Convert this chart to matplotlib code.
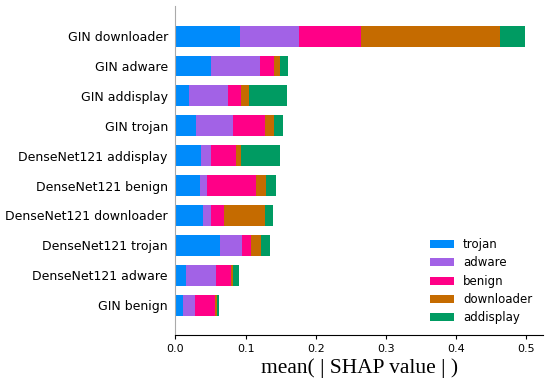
import numpy as np
import matplotlib.pyplot as plt

features = ["GIN downloader", "GIN adware", "GIN addisplay", "GIN trojan",
            "DenseNet121 addisplay", "DenseNet121 benign", "DenseNet121 downloader",
            "DenseNet121 trojan", "DenseNet121 adware", "GIN benign"]
classes = ["trojan", "adware", "benign", "downloader", "addisplay"]
colors = ["#008bfb", "#a262e6", "#ff0087", "#c56b00", "#009b62"]

# mean |SHAP| per feature (rows) and class (columns), top row first
trojan     = [0.092, 0.0506, 0.0197, 0.0287, 0.0363, 0.0349, 0.0396, 0.0634, 0.0150, 0.0102]
adware     = [0.084, 0.0698, 0.0546, 0.0527, 0.0143, 0.0100, 0.0105, 0.0309, 0.0432, 0.0176]
benign     = [0.089, 0.0199, 0.0190, 0.0466, 0.0356, 0.0698, 0.0190, 0.0132, 0.0208, 0.0285]
downloader = [0.198, 0.0085, 0.0119, 0.0119, 0.0076, 0.0138, 0.0584, 0.0148, 0.0034, 0.0024]
addisplay  = [0.036, 0.0124, 0.0541, 0.0137, 0.0546, 0.0147, 0.0118, 0.0119, 0.0081, 0.0033]

vals = np.array([trojan, adware, benign, downloader, addisplay])

fig = plt.figure(figsize=(5.5, 3.86), dpi=100)
ax = fig.add_axes([0.319, 0.132, 0.668, 0.852])

y = np.arange(len(features))[::-1]
left = np.zeros(len(features))
for i, c in enumerate(classes):
    ax.barh(y, vals[i], 0.7, left=left, color=colors[i], label=c)
    left += vals[i]

ax.set_ylim(-1, len(features))
ax.set_yticks(y)
ax.set_yticklabels(features, fontsize=9)
ax.tick_params(axis='y', length=0, pad=5.5)
ax.tick_params(axis='x', labelsize=8, length=3)
ax.set_xticks([0.0, 0.1, 0.2, 0.3, 0.4, 0.5])
ax.spines['right'].set_visible(False)
ax.spines['top'].set_visible(False)
ax.spines['left'].set_color('#aaaaaa')
ax.set_xlabel("mean( | SHAP value | )", fontsize=15.5, family='Liberation Serif',
              labelpad=3)

ax.legend(loc='lower right', frameon=False, fontsize=8.5, handlelength=2.0,
          handleheight=0.7, labelspacing=0.45)

fig.savefig('out.png')
